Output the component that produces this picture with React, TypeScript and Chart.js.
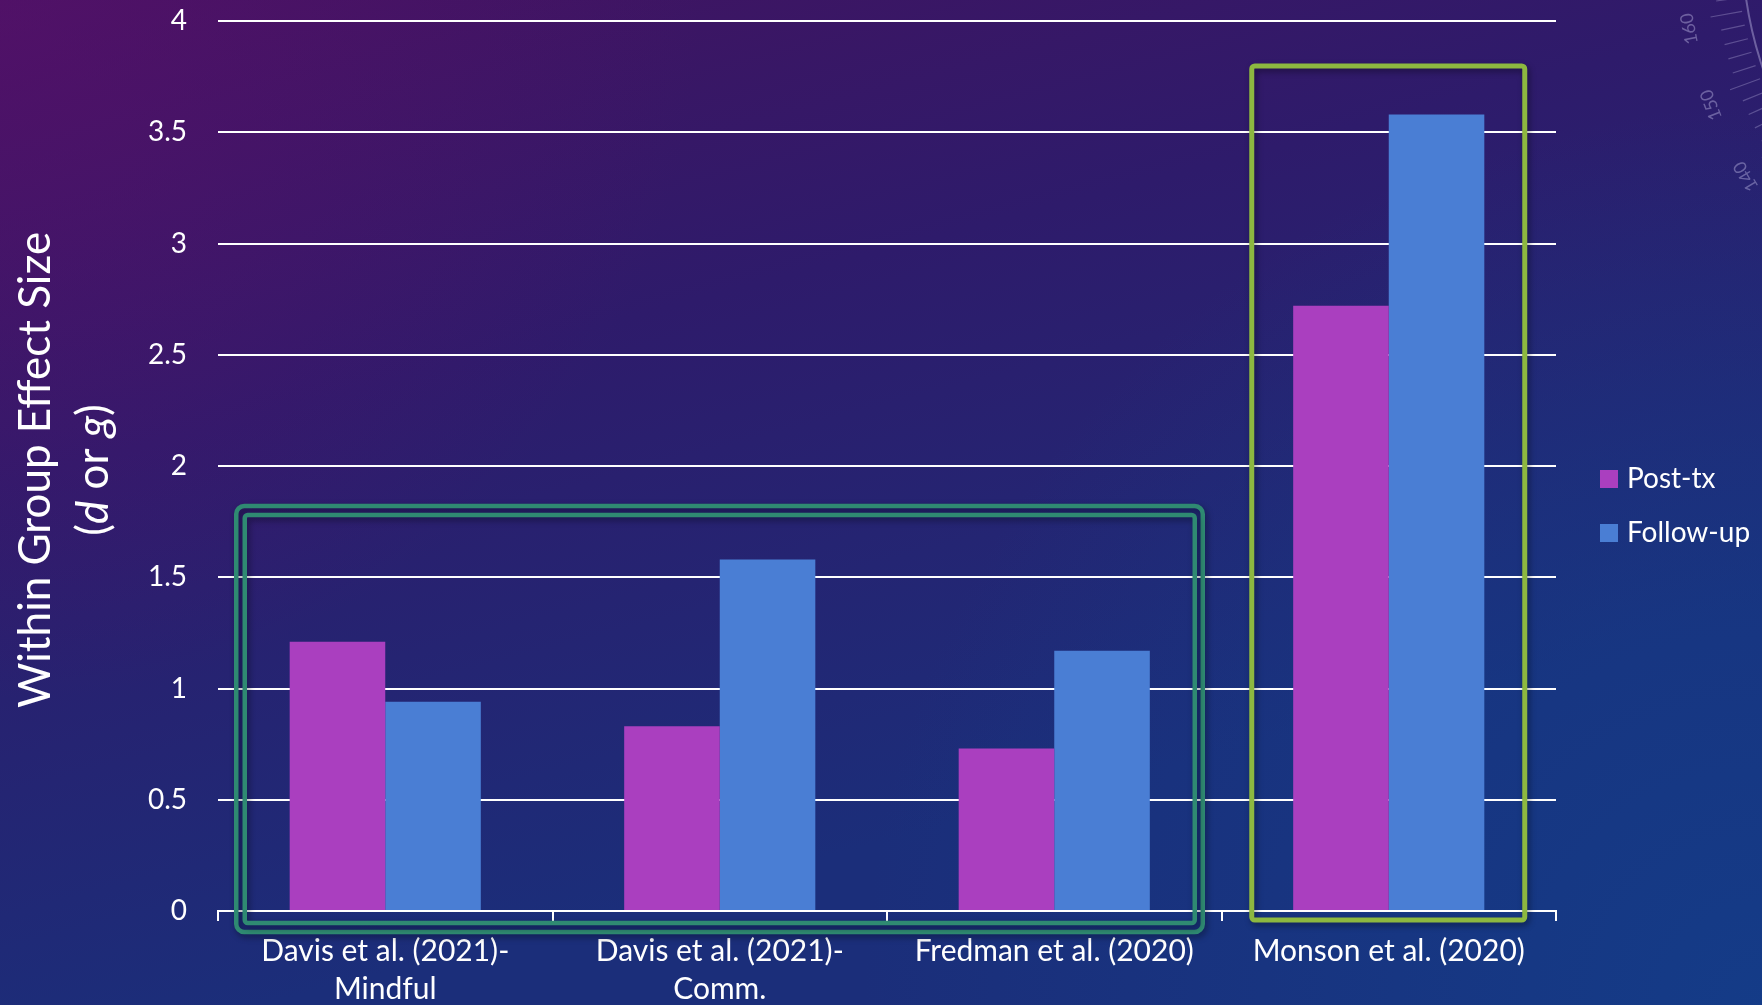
import React, { useEffect, useRef } from "react";
import { Chart, registerables } from "chart.js";

Chart.register(...registerables);

// ---- data ----
const categories: string[][] = [
  ["Davis et al. (2021)-", "Mindful"],
  ["Davis et al. (2021)-", "Comm."],
  ["Fredman et al. (2020)"],
  ["Monson et al. (2020)"],
];
const seriesNames = ["Post-tx", "Follow-up"];
const postTx = [1.21, 0.83, 0.73, 2.72];
const followUp = [0.94, 1.58, 1.17, 3.58];
const yMin = 0;
const yMax = 4;
const yStep = 0.5;

const axisTitle = "Within Group Effect Size";
const axisSubtitle = [
  { text: "(", italic: false },
  { text: "d", italic: true },
  { text: " or ", italic: false },
  { text: "g", italic: true },
  { text: ")", italic: false },
];

// groups of categories that are boxed on the slide
const highlightGroups = [
  { first: 0, last: 2, kind: "double" },
  { first: 3, last: 3, kind: "single" },
];

// protractor ornament numbers in the corner
const dialNumbers = [180, 170, 160, 150, 140, 130];

const FONT = "Lato, 'Noto Sans', sans-serif";
const PINK = "#aa3fbf";
const BLUE = "#4a7ed4";
const TEAL = "#2f8a72";
const LIME = "#8db840";

const W = 1762;
const H = 1005;

const backdrop = {
  id: "backdrop",
  beforeDraw(chart: any) {
    const { ctx, width, height } = chart;
    ctx.save();
    const g = ctx.createLinearGradient(0, 0, width * 0.15, height);
    g.addColorStop(0, "#45125f");
    g.addColorStop(0.45, "#2e1b6b");
    g.addColorStop(1, "#1b2e7a");
    ctx.fillStyle = g;
    ctx.fillRect(0, 0, width, height);

    const m = ctx.createRadialGradient(0, 0, 0, 0, 0, 700);
    m.addColorStop(0, "rgba(90,16,110,0.55)");
    m.addColorStop(1, "rgba(90,16,110,0)");
    ctx.fillStyle = m;
    ctx.fillRect(0, 0, width, height);

    const b = ctx.createRadialGradient(width, height, 0, width, height, 900);
    b.addColorStop(0, "rgba(18,64,140,0.75)");
    b.addColorStop(1, "rgba(18,64,140,0)");
    ctx.fillStyle = b;
    ctx.fillRect(0, 0, width, height);

    // protractor arc in the top-right corner
    const cx = width + 374;
    const cy = -58;
    ctx.strokeStyle = "rgba(205,200,240,0.4)";
    ctx.lineWidth = 2;
    ctx.beginPath();
    ctx.arc(cx, cy, 394, Math.PI * 0.6, Math.PI * 1.0);
    ctx.stroke();
    ctx.lineWidth = 1.2;
    ctx.strokeStyle = "rgba(205,200,240,0.3)";
    for (let a = 120; a <= 180; a += 2) {
      const r = (a * Math.PI) / 180;
      const inner = 400;
      const outer = a % 10 === 0 ? 432 : 424;
      ctx.beginPath();
      ctx.moveTo(cx + inner * Math.cos(r), cy + inner * Math.sin(r));
      ctx.lineTo(cx + outer * Math.cos(r), cy + outer * Math.sin(r));
      ctx.stroke();
    }
    ctx.fillStyle = "rgba(205,200,240,0.4)";
    ctx.font = `18px ${FONT}`;
    ctx.textAlign = "center";
    ctx.textBaseline = "middle";
    dialNumbers.forEach((n) => {
      const ang = ((n + 9) * Math.PI) / 180;
      const px = cx + 455 * Math.cos(ang);
      const py = cy + 455 * Math.sin(ang);
      ctx.save();
      ctx.translate(px, py);
      ctx.rotate(ang - Math.PI / 2 + Math.PI);
      ctx.fillText(String(n), 0, 0);
      ctx.restore();
    });
    ctx.restore();
  },
};

const axisTitlePlugin = {
  id: "axisTitle",
  afterDraw(chart: any) {
    const { ctx, chartArea } = chart;
    const yc = (chartArea.top + chartArea.bottom) / 2 + 4;
    ctx.save();
    ctx.fillStyle = "#ffffff";
    ctx.textBaseline = "middle";
    // first line
    ctx.save();
    ctx.translate(36, yc);
    ctx.rotate(-Math.PI / 2);
    ctx.font = `44px ${FONT}`;
    ctx.textAlign = "center";
    ctx.fillText(axisTitle, 0, 0);
    ctx.restore();
    // second line with italic symbols
    ctx.save();
    ctx.translate(94, yc);
    ctx.rotate(-Math.PI / 2);
    ctx.textAlign = "left";
    const fontFor = (it: boolean) => `${it ? "italic " : ""}44px ${FONT}`;
    let total = 0;
    for (const s of axisSubtitle) {
      ctx.font = fontFor(s.italic);
      total += ctx.measureText(s.text).width;
    }
    let xPos = -total / 2;
    for (const s of axisSubtitle) {
      ctx.font = fontFor(s.italic);
      ctx.fillText(s.text, xPos, 0);
      xPos += ctx.measureText(s.text).width;
    }
    ctx.restore();
    ctx.restore();
  },
};

const legendPlugin = {
  id: "sideLegend",
  afterDraw(chart: any) {
    const { ctx, chartArea } = chart;
    const x0 = chartArea.right + 44;
    const y0 = 479;
    ctx.save();
    ctx.textBaseline = "middle";
    ctx.textAlign = "left";
    ctx.font = `28px ${FONT}`;
    chart.data.datasets.forEach((ds: any, i: number) => {
      const yy = y0 + i * 54;
      ctx.fillStyle = ds.backgroundColor;
      ctx.fillRect(x0, yy - 9, 18, 18);
      ctx.fillStyle = "#ffffff";
      ctx.fillText(ds.label, x0 + 27, yy);
    });
    ctx.restore();
  },
};

const highlightPlugin = {
  id: "highlights",
  afterDraw(chart: any) {
    const { ctx } = chart;
    const xs = chart.scales.x;
    const ys = chart.scales.y;
    const base = ys.getPixelForValue(0);
    ctx.save();
    ctx.shadowColor = "rgba(0,0,0,0.4)";
    ctx.shadowBlur = 6;
    ctx.shadowOffsetX = 2;
    ctx.shadowOffsetY = 3;
    for (const h of highlightGroups) {
      const peak = Math.max(
        ...postTx.slice(h.first, h.last + 1),
        ...followUp.slice(h.first, h.last + 1)
      );
      const top = ys.getPixelForValue(peak);
      const l = xs.getPixelForValue(h.first);
      const r = xs.getPixelForValue(h.last);
      if (h.kind === "double") {
        ctx.strokeStyle = TEAL;
        ctx.lineWidth = 4.5;
        ctx.beginPath();
        ctx.roundRect(l - 149, top - 53.5, r - l + 297.5, base + 21 - (top - 53.5), 8);
        ctx.stroke();
        ctx.beginPath();
        ctx.roundRect(l - 140.5, top - 44.5, r - l + 281, base + 12 - (top - 44.5), 3);
        ctx.stroke();
      } else {
        ctx.strokeStyle = LIME;
        ctx.lineWidth = 5;
        ctx.beginPath();
        ctx.roundRect(l - 137, top - 48.5, r - l + 273, base + 9 - (top - 48.5), 3);
        ctx.stroke();
      }
    }
    ctx.restore();
  },
};

export default function App() {
  const ref = useRef<HTMLCanvasElement | null>(null);

  useEffect(() => {
    document.body.style.margin = "0";
    const canvas = ref.current;
    if (!canvas) return;
    const chart = new Chart(canvas, {
      type: "bar",
      data: {
        labels: categories,
        datasets: [
          {
            label: seriesNames[0],
            data: postTx,
            backgroundColor: PINK,
            borderWidth: 0,
            barPercentage: 1,
            categoryPercentage: 2 / 3.5,
          },
          {
            label: seriesNames[1],
            data: followUp,
            backgroundColor: BLUE,
            borderWidth: 0,
            barPercentage: 1,
            categoryPercentage: 2 / 3.5,
          },
        ],
      },
      options: {
        responsive: false,
        animation: false,
        devicePixelRatio: 1,
        layout: { padding: { top: 21, right: 206, bottom: 0, left: 0 } },
        plugins: {
          legend: { display: false },
          tooltip: { enabled: false },
          title: { display: false },
        },
        scales: {
          x: {
            offset: true,
            grid: {
              offset: true,
              drawOnChartArea: false,
              drawTicks: true,
              tickLength: 10,
              color: "#ffffff",
              lineWidth: 2,
            },
            border: { display: true, color: "#ffffff", width: 2 },
            ticks: {
              color: "#ffffff",
              font: { family: FONT, size: 30, lineHeight: 1.27 },
              padding: 11,
              maxRotation: 0,
              minRotation: 0,
              autoSkip: false,
            },
            afterFit: (s: any) => {
              s.height = 94;
            },
          },
          y: {
            min: yMin,
            max: yMax,
            ticks: {
              stepSize: yStep,
              color: "#ffffff",
              font: { family: FONT, size: 28 },
              padding: 0,
              callback: (v: any) => String(Number(v)),
            },
            grid: {
              color: "#ffffff",
              lineWidth: 2,
              drawTicks: true,
              tickLength: 31,
              tickColor: "rgba(0,0,0,0)",
            },
            border: { display: false },
            afterFit: (s: any) => {
              s.width = 218;
            },
          },
        },
      },
      plugins: [backdrop, highlightPlugin, axisTitlePlugin, legendPlugin],
    } as any);
    return () => chart.destroy();
  }, []);

  return (
    <div style={{ width: W, height: H }}>
      <canvas ref={ref} width={W} height={H} style={{ display: "block" }} />
    </div>
  );
}
